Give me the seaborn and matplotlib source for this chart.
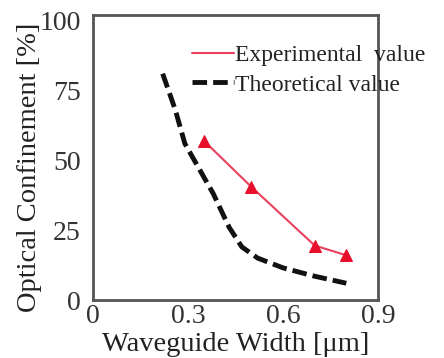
import matplotlib
matplotlib.use("Agg")
import matplotlib.pyplot as plt
import seaborn as sns
import pandas as pd

sns.set_style("white")
plt.rcParams['font.family'] = ['Liberation Serif', 'DejaVu Serif']

exp_x = [0.35, 0.50, 0.70, 0.80]
exp_y = [57, 40.5, 19.5, 16]
theo_x = [0.22, 0.26, 0.29, 0.33, 0.38, 0.43, 0.47, 0.52, 0.60, 0.70, 0.80]
theo_y = [81, 68, 56, 48, 38, 26, 19, 15, 11.5, 8.5, 6]

x_ticks = [0, 0.3, 0.6, 0.9]
x_tick_labels = ["0", "0.3", "0.6", "0.9"]
y_ticks = [0, 25, 50, 75, 100]
y_tick_labels = ["0", "25", "50", "75", "100"]

df_exp = pd.DataFrame({"x": exp_x, "y": exp_y})
df_theo = pd.DataFrame({"x": theo_x, "y": theo_y})

fig = plt.figure(figsize=(4.44, 3.58), dpi=100)
ax = fig.add_axes([93/444, 1 - 300/358, 285/444, 285/358])

sns.lineplot(data=df_exp, x="x", y="y", ax=ax, color="#e8405e", lw=1.5,
             marker="^", markersize=9, markerfacecolor="#e8102a",
             markeredgecolor="#e8102a", label="Experimental  value")
sns.lineplot(data=df_theo, x="x", y="y", ax=ax, color="#111111", lw=3.5,
             linestyle=(0, (3.0, 1.25)), label="Theoretical value")

ax.set_xlim(0, 0.9)
ax.set_ylim(0, 102)
ax.set_xticks(x_ticks)
ax.set_xticklabels(x_tick_labels)
ax.set_yticks(y_ticks)
ax.set_yticklabels(y_tick_labels)
ax.tick_params(axis="both", direction="in", length=4, width=1.5, color="#555555",
               labelsize=20, labelcolor="#333333")
ax.tick_params(axis="y", pad=9)
ax.tick_params(axis="x", pad=3)
for s in ax.spines.values():
    s.set_color("#555555")
    s.set_linewidth(2)

ax.set_xlabel("Waveguide Width [μm]", fontsize=20.5, color="#222222")
ax.set_ylabel("Optical Confinement [%]", fontsize=20.5, color="#222222")
ax.xaxis.set_label_coords(0.5, -57/285, transform=ax.transAxes)
ax.xaxis.label.set_va("bottom")
ax.yaxis.set_label_coords(-63/285, 133/285, transform=ax.transAxes)
ax.yaxis.label.set_va("center")

leg = ax.legend(loc="upper left", bbox_to_anchor=(0.315, 0.93), frameon=False,
                fontsize=17, handlelength=1.75, handletextpad=0.05,
                labelspacing=0.35, borderaxespad=0)
for h in leg.legend_handles:
    h.set_marker("")
for t in leg.get_texts():
    t.set_color("#222222")

fig.savefig("out.png", dpi=100)
